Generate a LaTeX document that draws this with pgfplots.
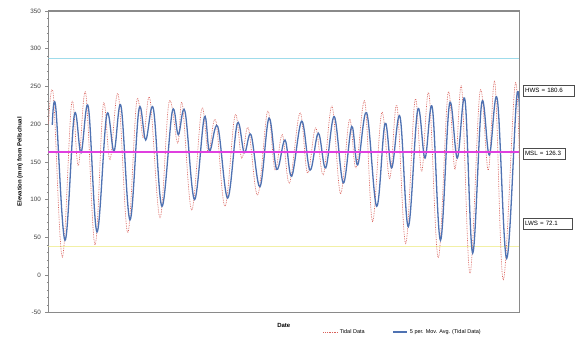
\documentclass[border=0pt]{standalone}
\usepackage{pgfplots}
\pgfplotsset{compat=1.18}
\usepackage{fontspec}
\setmainfont{Liberation Sans}
\definecolor{tidred}{HTML}{D9605A}
\definecolor{avgblue}{HTML}{4F72B2}
\definecolor{hwscyan}{HTML}{9FDCEB}
\definecolor{mslmag}{HTML}{E03FE0}
\definecolor{lwsyel}{HTML}{F2F0A6}
\definecolor{axgray}{HTML}{8A8A8A}
\begin{document}
\begin{tikzpicture}[x=1pt,y=1pt]
\useasboundingbox (0,0) rectangle (581,338);
\begin{axis}[
  at={(48.3pt,25.3pt)}, anchor=south west,
  scale only axis, width=471pt, height=301.7pt,
  xmin=48.3, xmax=519.3, ymin=-50, ymax=350,
  xtick=\empty,
  ytick={-50,0,...,350},
  ytick pos=left,
  minor y tick num=4,
  tick align=outside,
  major tick length=3pt, minor tick length=1.5pt,
  every tick/.style={axgray, line width=0.5pt},
  axis line style={axgray, line width=1.2pt},
  ticklabel style={font=\fontsize{6.3}{7}\selectfont, text=black!75},
  yticklabel style={xshift=-1pt},
  /pgf/number format/assume math mode=true,
  xlabel={Date},
  xlabel style={at={(axis description cs:0.5,-0.041)}, anchor=center, font=\fontsize{6}{7}\selectfont\bfseries},
  ylabel={Elevation (mm) from Pellschual},
  ylabel style={at={(axis description cs:-0.060,0.5)}, anchor=center, font=\fontsize{6}{7}\selectfont\bfseries},
  legend columns=2,
  legend style={at={(axis description cs:0.583,-0.064)}, anchor=west, draw=none, fill=none, inner sep=0pt,
    font=\fontsize{5.5}{6.5}\selectfont, /tikz/every even column/.append style={column sep=26pt}},
  legend image code/.code={\draw[#1] (0pt,0pt) -- (14pt,0pt);},
  clip=true,
]
\addplot[hwscyan, line width=0.6pt, forget plot] coordinates {(48.3,287.2) (519.3,287.2)};
\addplot[lwsyel, line width=0.8pt, forget plot] coordinates {(48.3,38.5) (519.3,38.5)};
\addplot[tidred, densely dotted, line width=0.7pt, smooth, tension=0.6] coordinates {
(48.5,200) (53.3,239) (62.3,24) (71.7,228) (78.3,145) (85.7,241) (95,40) (103.3,226)
(110,153) (118.3,239) (127.7,56) (136.7,230) (143.3,182) (150,233) (160,76) (169,229)
(177.7,175) (182.3,227) (191.7,86) (201.7,220) (208.3,162) (215.7,205) (225,91) (235,212)
(241.7,155) (248.3,195) (257.7,106) (267.7,217) (275,139) (282.3,186) (289.5,122) (300,215)
(307.5,135) (315.7,195) (323.3,133) (332,224) (340.5,108) (349.5,206) (356,142) (364.8,230)
(372.5,71) (381.7,215) (389.7,128) (397,224) (405.7,42) (415,232) (421.7,137) (429,240)
(438.3,23) (448,241) (455,140) (461.7,248) (470,2) (480,243) (488.3,139) (495,254)
(503.3,-6) (515,252) (519.5,144)
};
\addlegendentry{Tidal Data}
\addplot[avgblue, line width=1.3pt, smooth, tension=0.6] coordinates {
(52.3,199) (55.7,223) (65,46) (74.3,212) (81,162) (88.3,223) (97,57) (106.7,212)
(114,164) (121,224) (130,73) (139,220) (145.7,179) (153.3,221) (162,91) (172.3,217)
(178.3,186) (185,217) (194.5,100) (204.3,209) (209.5,164) (217.7,197) (227.7,102) (237.3,201)
(244.3,162) (251,186) (260,117) (269,208) (276.7,140) (285,179) (291.7,131) (301.7,204)
(310,139) (318.3,188) (325.7,142) (334.3,210) (343.3,122) (351.7,197) (357.7,146) (366.7,215)
(376.7,91) (385,201) (391.7,142) (400,210) (408.3,64) (417.7,219) (425,155) (432.3,222)
(440.5,46) (449.5,227) (457.3,155) (465,232) (472.7,29) (481.7,228) (489.3,159) (497.3,233)
(506.7,22) (516.7,236) (520,200)
};
\addlegendentry{5 per. Mov. Avg. (Tidal Data)}
\addplot[mslmag, line width=1.4pt, forget plot] coordinates {(48.3,163.3) (519.3,163.3)};
\end{axis}
\begin{scope}[every node/.style={draw=black!70, line width=0.5pt, anchor=west, inner ysep=0pt,
   minimum height=11pt, inner xsep=1.5pt, font=\fontsize{6.2}{7}\selectfont, align=left}]
\node[text width=48pt] at (523.3,247.5) {HWS = 180.6};
\node[text width=39pt] at (523.3,184.3) {MSL = 126.3};
\node[text width=46pt] at (523.3,114.7) {LWS = 72.1};
\end{scope}
\end{tikzpicture}
\end{document}
